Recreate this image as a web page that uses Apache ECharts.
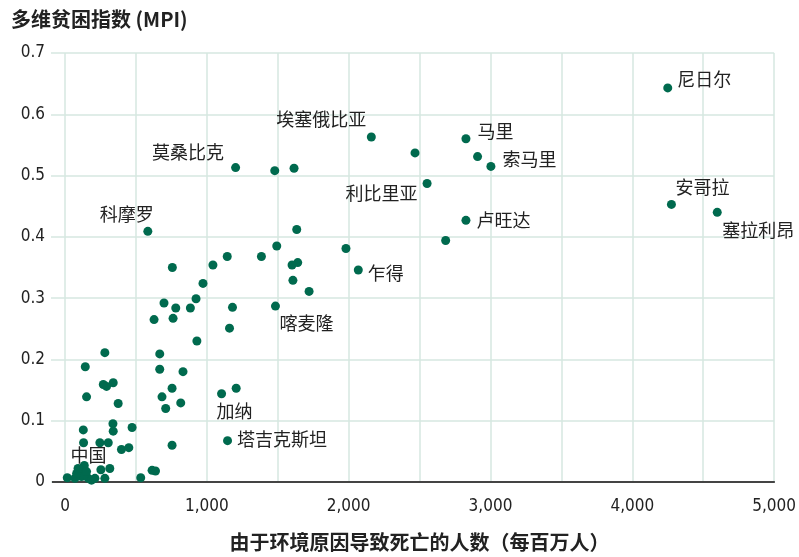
<!DOCTYPE html>
<html>
<head>
<meta charset="utf-8">
<script src="https://cdn.jsdelivr.net/npm/echarts@6/dist/echarts.min.js"></script>
<style>
html,body{margin:0;padding:0;background:#fff;}
#chart{width:799px;height:557px;}
</style>
</head>
<body>
<div id="chart"></div>
<script>
// Labeled countries
const labeledNames = ['尼日尔','埃塞俄比亚','莫桑比克','马里','索马里','利比里亚','卢旺达','安哥拉','塞拉利昂','科摩罗','乍得','喀麦隆','加纳','塔吉克斯坦','中国'];
const labeledX = [4250,2160,1203,2827,3003,2553,2827,4276,4599,584,2068,1484,1104,1146,152];
const labeledY = [0.643,0.563,0.513,0.560,0.515,0.487,0.427,0.453,0.440,0.409,0.346,0.287,0.144,0.0675,0.017];

// Unlabeled countries
const otherX = [2468,2909,2684,1479,1615,1634,1493,1385,1981,1641,1601,1607,1721,1144,1043,757,973,924,698,781,884,1181,628,762,1160,930,281,668,143,668,832,270,293,340,755,152,684,1207,375,816,710,338,340,129,473,131,246,305,398,450,755,136,253,316,614,638,534,16,105,117,164,187,70,281,211,82,92];
const otherY = [0.537,0.531,0.394,0.508,0.512,0.412,0.385,0.368,0.381,0.358,0.354,0.329,0.311,0.368,0.354,0.350,0.324,0.299,0.292,0.284,0.284,0.285,0.265,0.267,0.251,0.230,0.211,0.209,0.188,0.184,0.180,0.159,0.156,0.162,0.153,0.139,0.139,0.153,0.128,0.129,0.120,0.095,0.083,0.085,0.089,0.064,0.064,0.064,0.053,0.056,0.060,0.027,0.020,0.022,0.019,0.018,0.007,0.007,0.019,0.009,0.006,0.003,0.006,0.006,0.006,0.014,0.022];

// label placement (style, not data)
const labelPlace = {
  '尼日尔': {position:'right', offset:[0,-9]},
  '埃塞俄比亚': {position:'top', offset:[-50,1]},
  '莫桑比克': {position:'left', offset:[-2,-15]},
  '马里': {position:'right', offset:[2,-8]},
  '索马里': {position:'right', offset:[2,-7]},
  '利比里亚': {position:'left', offset:[0,10]},
  '卢旺达': {position:'right', offset:[1,0]},
  '安哥拉': {position:'top', offset:[31,1]},
  '塞拉利昂': {position:'bottom', offset:[41,-1]},
  '科摩罗': {position:'top', offset:[-21,1]},
  '乍得': {position:'right', offset:[0,3]},
  '喀麦隆': {position:'bottom', offset:[31,-1]},
  '加纳': {position:'bottom', offset:[13,-1]},
  '塔吉克斯坦': {position:'right', offset:[0,-1]},
  '中国': {position:'top', offset:[2,2]}
};

const narrow = "'Liberation Sans Narrow','DejaVu Sans Condensed','Roboto',sans-serif";
const cjk = "'Noto Sans CJK SC','Noto Sans',sans-serif";
const green = '#006a4e';
const gridColor = '#d6e7e1';

const labeledData = labeledNames.map((n,i)=>({
  value:[labeledX[i], labeledY[i]],
  name:n,
  label:Object.assign({show:true, formatter:n, distance:5}, labelPlace[n])
}));
const otherData = otherX.map((x,i)=>[x, otherY[i]]);

const chart = echarts.init(document.getElementById('chart'), null, {renderer:'canvas', width:799, height:557});
chart.setOption({
  animation:false,
  backgroundColor:'#fff',
  title:{
    text:'多维贫困指数 (MPI)',
    left:6, top:4,
    textStyle:{fontFamily:cjk, fontSize:20, fontWeight:'bold', color:'#222'}
  },
  grid:{left:65, right:23, top:53, bottom:73.5, containLabel:false},
  xAxis:{
    type:'value', min:0, max:5000, interval:500,
    name:'由于环境原因导致死亡的人数（每百万人）',
    nameLocation:'middle', nameGap:50,
    nameTextStyle:{fontFamily:cjk, fontSize:20, fontWeight:'bold', color:'#222'},
    axisLine:{show:true, lineStyle:{color:'#444', width:2}},
    axisTick:{show:false},
    splitLine:{show:true, lineStyle:{color:gridColor, width:1.5}},
    axisLabel:{
      margin:16,
      fontFamily:narrow, fontSize:17, color:'#222',
      formatter:function(v){ if(v%1000!==0) return ''; return v.toLocaleString('en-US'); }
    }
  },
  yAxis:[{
    type:'value', min:0, max:0.7, interval:0.1,
    axisLine:{show:false},
    axisTick:{show:true, length:14, lineStyle:{color:gridColor, width:1.5}},
    splitLine:{show:true, lineStyle:{color:gridColor, width:1.5}},
    axisLabel:{
      margin:20,
      fontFamily:narrow, fontSize:17, color:'#222',
      formatter:function(v){ return v===0 ? '0' : String(Math.round(v*10)/10); }
    }
  },{
    type:'value', min:0, max:0.7, interval:0.1, position:'left',
    axisLine:{show:false},
    axisTick:{show:true, length:13, customValues:[0], lineStyle:{color:'#444', width:2}},
    splitLine:{show:false},
    axisLabel:{show:false}
  }],
  series:[
    {
      type:'scatter', symbolSize:9, itemStyle:{color:green, opacity:1},
      data:otherData, z:3
    },
    {
      type:'scatter', symbolSize:9, itemStyle:{color:green, opacity:1},
      label:{fontFamily:cjk, fontSize:18, color:'#222'},
      data:labeledData, z:4
    }
  ]
});
</script>
</body>
</html>
